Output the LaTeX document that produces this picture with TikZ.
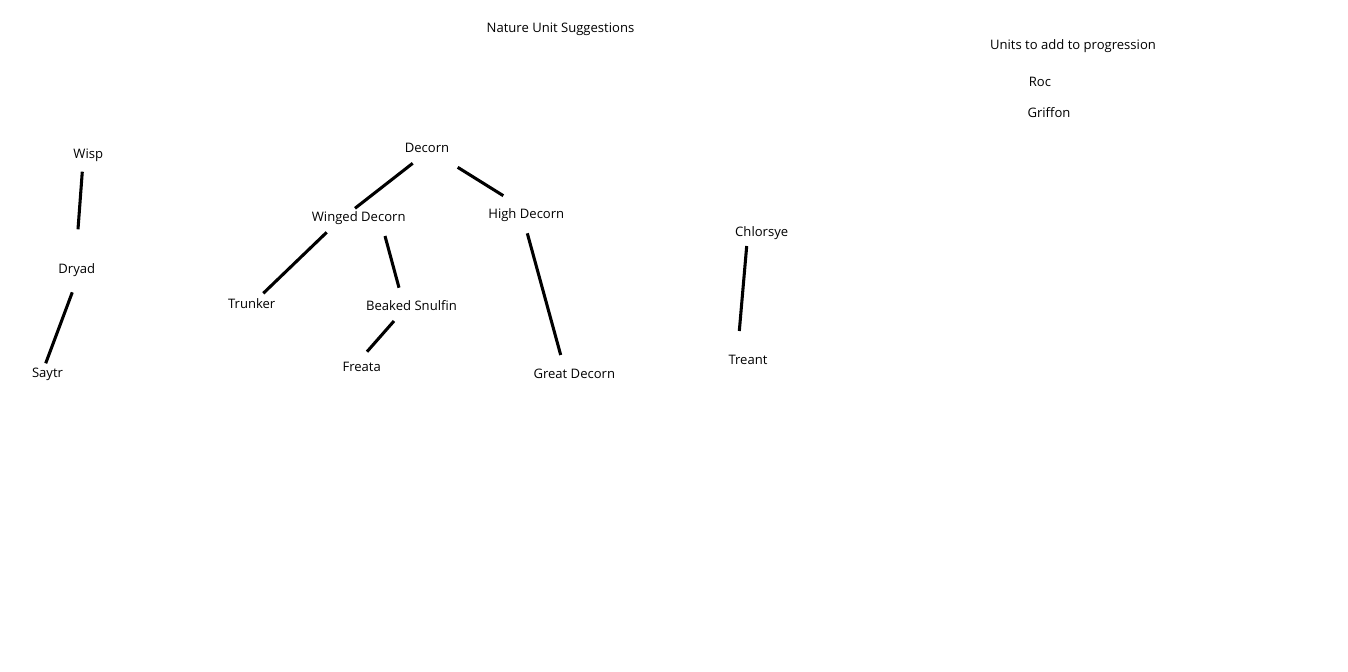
\documentclass[tikz,border=0pt]{standalone}
\usepackage{fontspec}
\setmainfont{Open Sans}
\usepackage{tikz}

\begin{document}
\begin{tikzpicture}[x=0.75pt, y=-0.75pt,
    unit/.style={anchor=base, inner sep=0pt, font=\fontsize{9.8}{11}\selectfont},
    stroke/.style={black, line width=2.3pt}]
                \useasboundingbox (0,0) rectangle (1348,671);

                % headings
                \node[unit] (title) at (560.5,32.7) {Nature Unit Suggestions};
                \node[unit] (extra) at (1073,49.5) {Units to add to progression};
                \node[unit] (roc) at (1040,86.5) {Roc};
                \node[unit] (griffon) at (1049,117.3) {Griffon};

                % units
                \node[unit] (wisp) at (88.3,158) {Wisp};
                \node[unit] (dryad) at (76.8,273.5) {Dryad};
                \node[unit] (saytr) at (47.5,377.5) {Saytr};
                \node[unit] (decorn) at (427,152.7) {Decorn};
                \node[unit] (winged) at (358.7,221.7) {Winged Decorn};
                \node[unit] (high) at (526.3,218) {High Decorn};
                \node[unit] (trunker) at (251.7,308.3) {Trunker};
                \node[unit] (beaked) at (411.5,310.7) {Beaked Snulfin};
                \node[unit] (freata) at (361.7,371) {Freata};
                \node[unit] (great) at (574.3,378.3) {Great Decorn};
                \node[unit] (chlorsye) at (761.7,236.7) {Chlorsye};
                \node[unit] (treant) at (748,364) {Treant};

                % links
                \draw[stroke] ([shift={(-6,13.7)}]wisp.base) -- ([shift={(1.2,-44.2)}]dryad.base);
                \draw[stroke] ([shift={(-4.5,18.8)}]dryad.base) -- ([shift={(-1.8,-14.2)}]saytr.base);
                \draw[stroke] ([shift={(-14.3,10.6)}]decorn.base) -- ([shift={(-3.7,-13.4)}]winged.base);
                \draw[stroke] ([shift={(30.7,14.6)}]decorn.base) -- ([shift={(-23,-22.3)}]high.base);
                \draw[stroke] ([shift={(-32,10.6)}]winged.base) -- ([shift={(11.6,-15)}]trunker.base);
                \draw[stroke] ([shift={(26.3,14.3)}]winged.base) -- ([shift={(-12.5,-23)}]beaked.base);
                \draw[stroke] ([shift={(-17.5,10.3)}]beaked.base) -- ([shift={(5.3,-19.3)}]freata.base);
                \draw[stroke] ([shift={(1,15.3)}]high.base) -- ([shift={(-13.6,-23.3)}]great.base);
                \draw[stroke] ([shift={(-15,9.3)}]chlorsye.base) -- ([shift={(-8.7,-33)}]treant.base);
            \end{tikzpicture}
\end{document}
